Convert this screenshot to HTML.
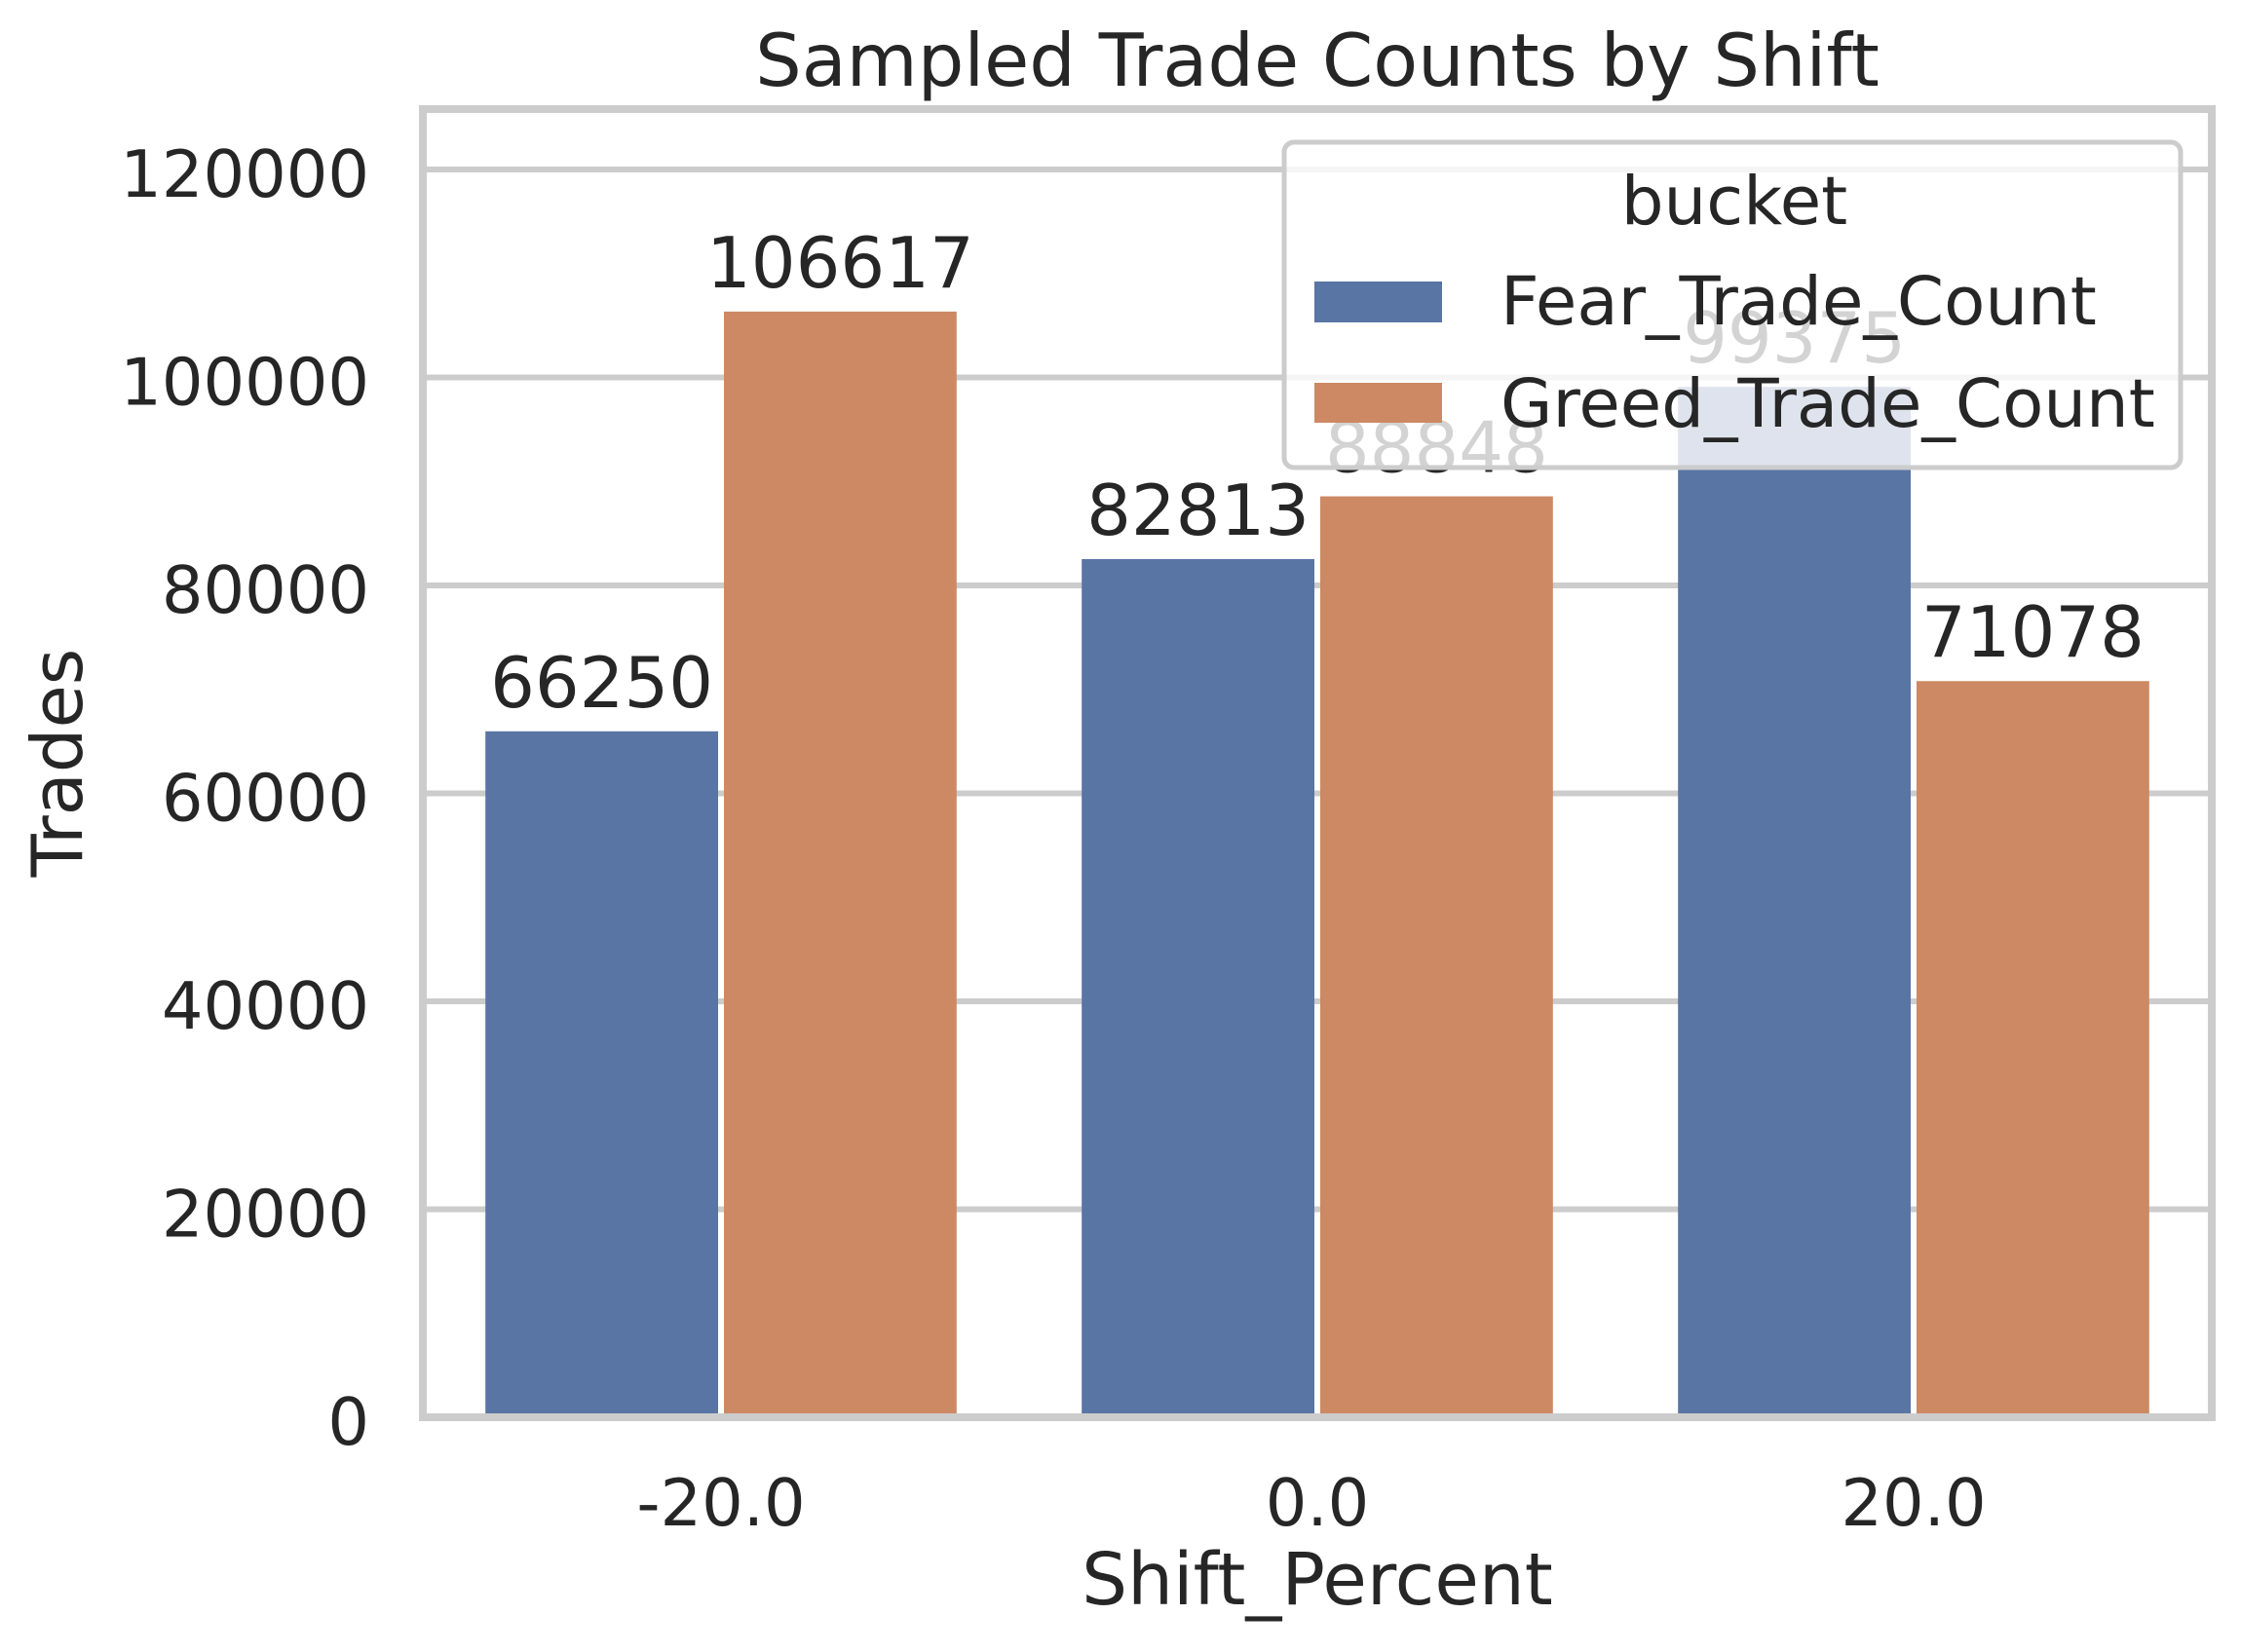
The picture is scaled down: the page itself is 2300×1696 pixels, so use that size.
<!DOCTYPE html>
<html><head><meta charset="utf-8"><style>
html,body{margin:0;padding:0;background:#fff;}
svg{display:block;font-family:"DejaVu Sans","Liberation Sans",sans-serif;}
</style></head><body>
<svg id="chart" width="2300" height="1696" viewBox="0 0 2300 1696" xmlns="http://www.w3.org/2000/svg">
<g id="grid"></g>
<g id="bars"></g>
<g id="labels"></g>
<rect x="434" y="112" width="1836" height="1343" fill="none" stroke="#cccccc" stroke-width="8"/>
<g id="ticks"></g>
<text x="1352" y="88" text-anchor="middle" font-size="75" fill="#262626">Sampled Trade Counts by Shift</text>
<text x="1352" y="1647" text-anchor="middle" font-size="74" fill="#262626">Shift_Percent</text>
<text transform="translate(84,783) rotate(-90)" text-anchor="middle" font-size="72" fill="#262626">Trades</text>
<g>
<rect x="1318" y="146" width="920" height="334" rx="10" fill="rgba(255,255,255,0.8)" stroke="#cccccc" stroke-width="5"/>
<text x="1780" y="230" text-anchor="middle" font-size="69" fill="#262626">bucket</text>
<rect x="1349" y="289" width="131" height="42" fill="#5975a4"/>
<text x="1540" y="333" font-size="69" fill="#262626">Fear_Trade_Count</text>
<rect x="1349" y="393" width="131" height="41" fill="#cc8963"/>
<text x="1540" y="438" font-size="69" fill="#262626">Greed_Trade_Count</text>
</g>
</svg>
<script>
const categories = ["-20.0", "0.0", "20.0"];
const fearValues = [66250, 82813, 99375];
const greedValues = [106617, 88848, 71078];
const yTicks = [0, 20000, 40000, 60000, 80000, 100000, 120000];
const seriesColors = ["#5975a4", "#cc8963"];

const NS = "http://www.w3.org/2000/svg";
const X0 = 434, X1 = 2270, Y0 = 1455, Y1 = 112;
const yMax = Math.max(...fearValues, ...greedValues) * 1.18;
function yScale(v){ return Y0 - (v / yMax) * (Y0 - Y1); }
const band = (X1 - X0) / categories.length;
function xCenter(i){ return X0 + band * (i + 0.5); }
function mk(tag, attrs, parent){
  const el = document.createElementNS(NS, tag);
  for (const k in attrs) el.setAttribute(k, attrs[k]);
  parent.appendChild(el);
  return el;
}
const grid = document.getElementById('grid');
const ticks = document.getElementById('ticks');
yTicks.forEach(t => {
  const y = yScale(t);
  const ln = mk('line', {x1: X0, x2: X1, y1: y, y2: y, stroke: '#cccccc', 'stroke-width': 6}, grid);
  
  
  const tx = mk('text', {x: 379, y: y + 28, 'text-anchor': 'end', 'font-size': 67, fill: '#262626'}, ticks);
  tx.textContent = String(t);
  
  
});
categories.forEach((c, i) => {
  const tx = mk('text', {x: xCenter(i), y: 1566, 'text-anchor': 'middle', 'font-size': 67, fill: '#262626'}, ticks);
  tx.textContent = c;
  
  
});
const barsG = document.getElementById('bars');
const labelsG = document.getElementById('labels');
const bw = band * 0.4;
[fearValues, greedValues].forEach((vals, s) => {
  vals.forEach((v, i) => {
    const left = xCenter(i) - bw + s * bw;
    const top = yScale(v);
    const r = mk('rect', {x: left + 3, y: top + 3, width: bw - 6, height: Y0 - top - 3, fill: seriesColors[s]}, barsG);
    
    
    const lb = mk('text', {x: left + bw / 2, y: top - 22, 'text-anchor': 'middle', 'font-size': 72, fill: '#262626'}, labelsG);
    lb.textContent = String(v);
    
    
  });
});
</script>
</body></html>
